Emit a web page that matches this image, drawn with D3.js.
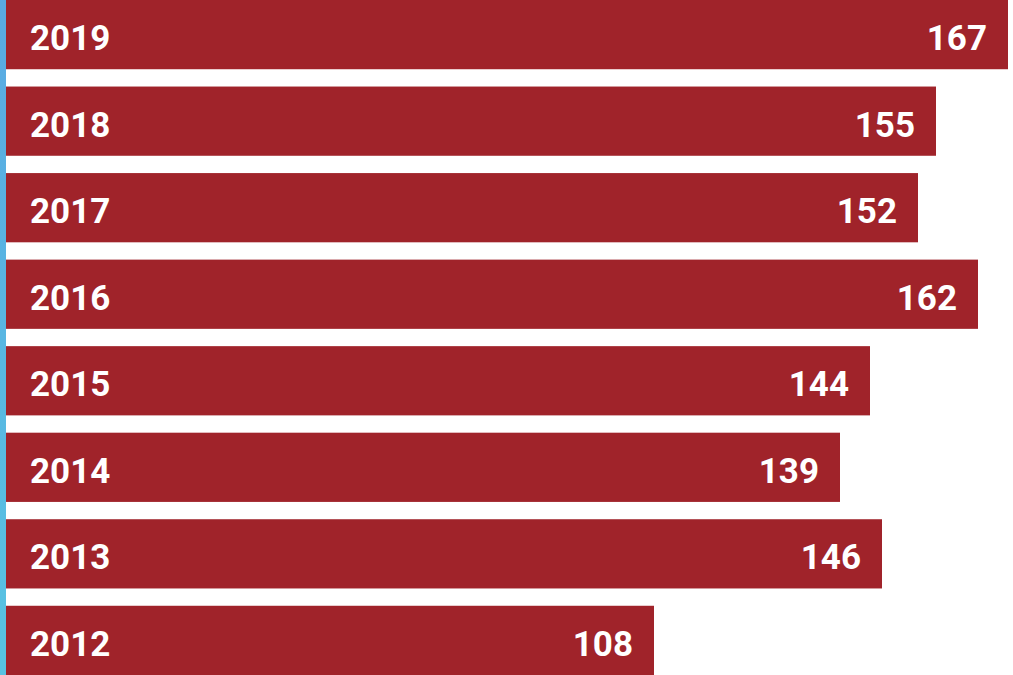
<!DOCTYPE html>
<html>
<head>
<meta charset="utf-8">
<script src="https://cdn.jsdelivr.net/npm/d3@7"></script>
<style>
  body { margin: 0; background: #fff; overflow: hidden; }
  text { font-family: Roboto, "Noto Sans", sans-serif; font-weight: 700; fill: #fff; }
</style>
</head>
<body>
<script>
// data
const years = ["2019", "2018", "2017", "2016", "2015", "2014", "2013", "2012"];
const counts = [167, 155, 152, 162, 144, 139, 146, 108];

const width = 1013, height = 675, left = 6;

const rows = years.map(function(y, i) { return {year: y, count: counts[i]}; });

const svg = d3.select("body").append("svg")
    .attr("width", width)
    .attr("height", height);

// blue strip down the left side
const grad = svg.append("defs").append("linearGradient")
    .attr("id", "strip")
    .attr("x1", 0).attr("y1", 0).attr("x2", 0).attr("y2", 1);
grad.append("stop").attr("offset", "0%").attr("stop-color", "#5aa9e2");
grad.append("stop").attr("offset", "100%").attr("stop-color", "#58c3e2");

svg.append("rect")
    .attr("x", 0).attr("y", 0)
    .attr("width", left).attr("height", height)
    .attr("fill", "url(#strip)");

var x = d3.scaleLinear()
    .domain([0, 170])
    .range([left, left + 1020]);

var y = d3.scaleBand()
    .domain(years)
    .range([0, height])
    .paddingInner(0.2)
    .paddingOuter(0);

svg.selectAll(".bar")
    .data(rows)
    .enter()
    .append("rect")
    .attr("class", "bar")
    .attr("x", left)
    .attr("y", function(d) { return y(d.year); })
    .attr("width", function(d) { return x(d.count) - left; })
    .attr("height", y.bandwidth())
    .attr("fill", "#a0232a");

// year labels
svg.selectAll(".year")
    .data(rows)
    .enter()
    .append("text")
    .attr("class", "year")
    .attr("x", 30)
    .attr("y", function(d) { return y(d.year) + y.bandwidth() / 2; })
    .attr("dy", "0.44em")
    .style("font-size", "35px")
    .text(function(d) { return d.year; });

// value labels at the bar end
svg.selectAll(".val")
    .data(rows)
    .enter()
    .append("text")
    .attr("class", "val")
    .attr("x", function(d) { return x(d.count) - 21; })
    .attr("y", function(d) { return y(d.year) + y.bandwidth() / 2; })
    .attr("dy", "0.44em")
    .attr("text-anchor", "end")
    .style("font-size", "35px")
    .text(function(d) { return d.count; });
</script>
</body>
</html>
